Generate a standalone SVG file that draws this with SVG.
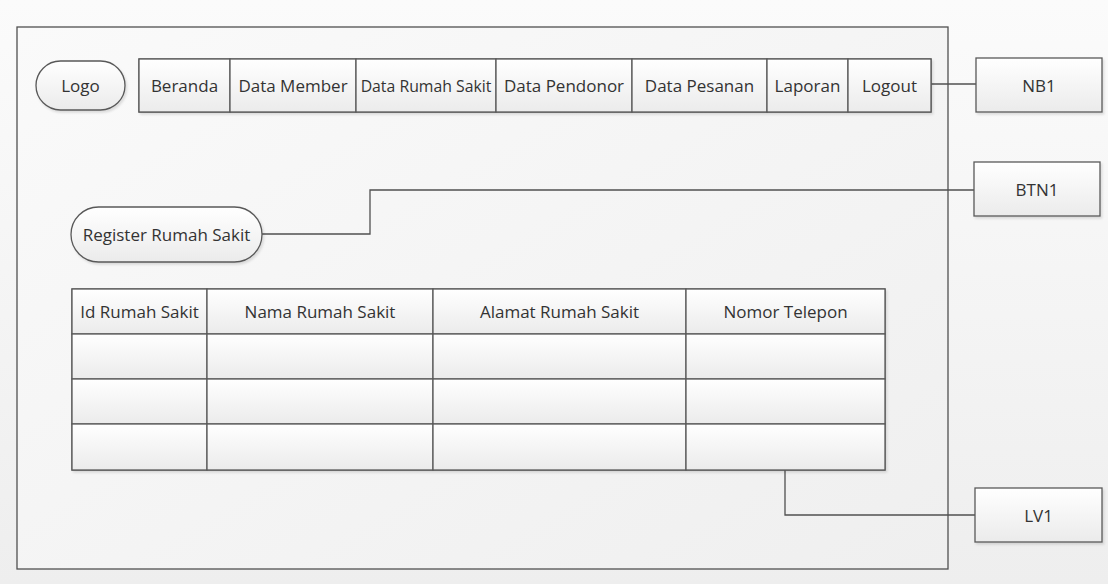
<svg xmlns="http://www.w3.org/2000/svg" width="1108" height="584" viewBox="0 0 1108 584">
<style>
.box{fill:url(#cell);stroke:#595959;stroke-width:1.3;filter:url(#sh)}
.cell{fill:url(#cell);stroke:#595959;stroke-width:1.3}
.t{font-family:"Open Sans","Liberation Sans",sans-serif;font-size:17px;fill:#333333;text-anchor:middle;dominant-baseline:central}
.s{font-size:15.8px}
.conn{fill:none;stroke:#505050;stroke-width:1.3}
</style>
<defs>
<linearGradient id="bg" x1="0" y1="0" x2="0" y2="1"><stop offset="0" stop-color="#fbfbfb"/><stop offset="1" stop-color="#eeeeee"/></linearGradient>
<linearGradient id="frame" x1="0" y1="0" x2="1" y2="1"><stop offset="0" stop-color="#fafafa"/><stop offset="1" stop-color="#efefef"/></linearGradient>
<linearGradient id="cell" x1="0" y1="0" x2="0" y2="1"><stop offset="0" stop-color="#ffffff"/><stop offset="1" stop-color="#ebebeb"/></linearGradient>
<filter id="sh" x="-10%" y="-10%" width="130%" height="140%"><feDropShadow dx="1.5" dy="2" stdDeviation="1" flood-color="#000" flood-opacity="0.12"/></filter>
</defs>
<rect x="0" y="0" width="1108" height="584" fill="url(#bg)"/>
<g id="frame-group"><rect x="17" y="27" width="931" height="542" fill="url(#frame)" stroke="#505050" stroke-width="1.3"/></g>
<g id="connectors">
<path class="conn" d="M931 84 H976"/>
<path class="conn" d="M262 234 H370 V190 H974"/>
<path class="conn" d="M785 470 V515 H975"/>
</g>
<g id="logo"><rect class="box" x="36" y="61" width="89" height="49" rx="24.5"/><text class="t" x="80.5" y="85.5">Logo</text></g>
<g id="navbar">
<rect class="box" x="139" y="59" width="792" height="53"/>
<rect class="cell" x="139" y="59" width="91" height="53"/><text class="t" x="184.5" y="85.5">Beranda</text>
<rect class="cell" x="230" y="59" width="126" height="53"/><text class="t" x="293" y="85.5">Data Member</text>
<rect class="cell" x="356" y="59" width="140" height="53"/><text class="t s" x="426" y="85.5">Data Rumah Sakit</text>
<rect class="cell" x="496" y="59" width="136" height="53"/><text class="t" x="564" y="85.5">Data Pendonor</text>
<rect class="cell" x="632" y="59" width="135" height="53"/><text class="t" x="699.5" y="85.5">Data Pesanan</text>
<rect class="cell" x="767" y="59" width="81" height="53"/><text class="t" x="807.5" y="85.5">Laporan</text>
<rect class="cell" x="848" y="59" width="83" height="53"/><text class="t" x="889.5" y="85.5">Logout</text>
</g>
<g id="nb1"><rect class="box" x="976" y="58" width="126" height="54"/><text class="t" x="1039" y="85">NB1</text></g>
<g id="btn1"><rect class="box" x="974" y="162" width="126" height="54"/><text class="t" x="1037" y="189">BTN1</text></g>
<g id="lv1"><rect class="box" x="975" y="488" width="127" height="54"/><text class="t" x="1038.5" y="515">LV1</text></g>
<g id="register"><rect class="box" x="71" y="207" width="191" height="55" rx="27.5"/><text class="t" x="166.5" y="234.5">Register Rumah Sakit</text></g>
<g id="table">
<rect class="box" x="72" y="289" width="813" height="181"/>
<rect class="cell" x="72" y="289" width="135" height="45"/><text class="t" x="139.5" y="311.5">Id Rumah Sakit</text>
<rect class="cell" x="207" y="289" width="226" height="45"/><text class="t" x="320" y="311.5">Nama Rumah Sakit</text>
<rect class="cell" x="433" y="289" width="253" height="45"/><text class="t" x="559.5" y="311.5">Alamat Rumah Sakit</text>
<rect class="cell" x="686" y="289" width="199" height="45"/><text class="t" x="785.5" y="311.5">Nomor Telepon</text>
<rect class="cell" x="72" y="334" width="135" height="45"/><rect class="cell" x="207" y="334" width="226" height="45"/><rect class="cell" x="433" y="334" width="253" height="45"/><rect class="cell" x="686" y="334" width="199" height="45"/>
<rect class="cell" x="72" y="379" width="135" height="45"/><rect class="cell" x="207" y="379" width="226" height="45"/><rect class="cell" x="433" y="379" width="253" height="45"/><rect class="cell" x="686" y="379" width="199" height="45"/>
<rect class="cell" x="72" y="424" width="135" height="46"/><rect class="cell" x="207" y="424" width="226" height="46"/><rect class="cell" x="433" y="424" width="253" height="46"/><rect class="cell" x="686" y="424" width="199" height="46"/>
</g>
</svg>
